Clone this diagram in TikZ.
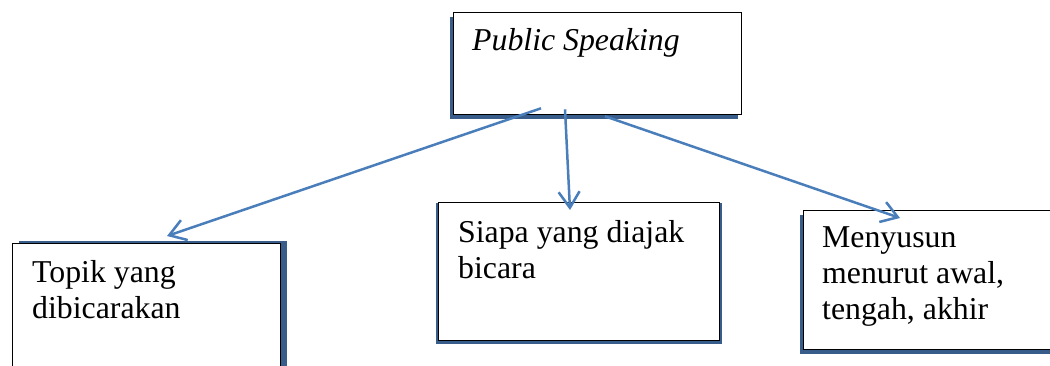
\documentclass[tikz,border=0pt]{standalone}
\usepackage{fontspec}
\setmainfont{Liberation Serif}
\usetikzlibrary{arrows.meta,calc,shadows}

\definecolor{arrowblue}{RGB}{74,126,187}
\definecolor{shadowblue}{RGB}{56,93,138}

\tikzset{
  box/.style={draw=black, line width=1.3pt, fill=white, anchor=north west, inner sep=0pt},
  txt/.style={anchor=base west, align=left, inner sep=0pt, font=\fontsize{31.8}{36}\selectfont},
  link/.style={draw=arrowblue, line width=2.5pt, -{Straight Barb[length=16pt,width=21pt]}},
}

\begin{document}
\begin{tikzpicture}[x=1pt,y=-1pt]
	\useasboundingbox (0,0) rectangle (1050,365);
	\clip (0,0) rectangle (1050,365);
	
	% boxes
	\node[box, minimum width=288pt, minimum height=102pt,
	  general shadow={fill=shadowblue, shadow xshift=-4pt, shadow yshift=-4pt}] (ps) at (453,12) {};
	\node[box, minimum width=268pt, minimum height=200pt,
	  general shadow={fill=shadowblue, shadow xshift=6pt, shadow yshift=3pt}] (topik) at (12,243) {};
	\node[box, minimum width=281pt, minimum height=138pt,
	  general shadow={fill=shadowblue, shadow scale=1.02, shadow yshift=-2pt}] (siapa) at (438,202) {};
	\node[box, minimum width=300pt, minimum height=139pt,
	  general shadow={fill=shadowblue, shadow xshift=-4pt, shadow yshift=-4pt}] (susun) at (803,210) {};
	
	% texts (anchored at the baseline of the last line)
	\node[txt, font=\fontsize{31.8}{36}\selectfont\itshape] (ps-t) at (472,50) {Public Speaking};
	\node[txt] (topik-t) at (32,318) {Topik yang\\dibicarakan};
	\node[txt] (siapa-t) at (458,278) {Siapa yang diajak\\bicara};
	\node[txt] (susun-t) at (822,319) {Menyusun\\menurut awal,\\tengah, akhir};
	
	% arrows
	\draw[link] ($(ps.south west)+(88,-7)$) -- ($(topik.north west)+(155,-7)$);
	\draw[link] ($(ps.south west)+(112,-6)$) -- ($(siapa.north west)+(132,8)$);
	\draw[link] ($(ps.south west)+(152,1)$) -- ($(susun.north west)+(97,8)$);
\end{tikzpicture}
\end{document}
